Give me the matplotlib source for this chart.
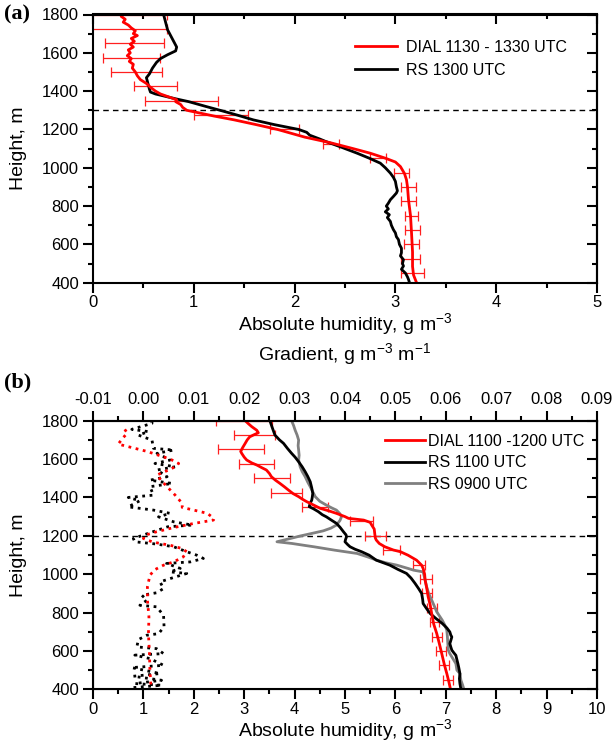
import numpy as np
import matplotlib
matplotlib.use('Agg')
from matplotlib import pyplot as plt
from matplotlib.ticker import MultipleLocator

plt.rcParams['font.family'] = ['Liberation Sans', 'DejaVu Sans']
plt.rcParams['mathtext.fontset'] = 'custom'
plt.rcParams['mathtext.rm'] = 'Liberation Sans'
plt.rcParams['mathtext.it'] = 'Liberation Sans:italic'

# ---- panel (a) ----
a_dial_h = [1800, 1790, 1775, 1760, 1745, 1730, 1715, 1700, 1690, 1675, 1660, 1645, 1630, 1615, 1600,
            1585, 1570, 1555, 1540, 1520, 1500, 1480, 1460, 1440, 1420, 1400, 1385, 1370, 1355, 1345,
            1330, 1315, 1300, 1290, 1270, 1250, 1225, 1200, 1160, 1130, 1100, 1076, 1050, 1030, 1006,
            970, 937, 900, 833, 750, 660, 560, 485, 440, 400]
a_dial_q = [0.30, 0.28, 0.32, 0.30, 0.35, 0.38, 0.42, 0.40, 0.44, 0.38, 0.41, 0.37, 0.40, 0.35, 0.37,
            0.34, 0.38, 0.36, 0.40, 0.39, 0.42, 0.44, 0.47, 0.53, 0.57, 0.62, 0.67, 0.75, 0.83, 0.82,
            0.87, 0.89, 0.93, 1.02, 1.20, 1.40, 1.62, 1.83, 2.10, 2.36, 2.58, 2.75, 2.90, 3.00, 3.05,
            3.09, 3.11, 3.12, 3.13, 3.15, 3.16, 3.17, 3.17, 3.18, 3.21]

a_err_h = [1800, 1725, 1650, 1575, 1500, 1425, 1350, 1275, 1200, 1125, 1050, 975, 900, 825, 750,
           675, 600, 525, 450]
a_err_q = [0.30, 0.36, 0.41, 0.38, 0.43, 0.62, 0.88, 1.27, 1.90, 2.36, 2.83, 3.06, 3.13, 3.13, 3.16,
           3.17, 3.16, 3.15, 3.17]
a_err_w = [0.43, 0.37, 0.29, 0.28, 0.25, 0.21, 0.36, 0.27, 0.14, 0.08, 0.08, 0.07, 0.07, 0.07, 0.06,
           0.07, 0.07, 0.09, 0.11]

a_rs_h = [1800, 1760, 1720, 1690, 1660, 1630, 1610, 1590, 1570, 1550, 1520, 1490, 1470, 1450, 1430,
          1410, 1395, 1385, 1375, 1360, 1345, 1320, 1300, 1275, 1250, 1225, 1200, 1185, 1170, 1150,
          1139, 1110, 1076, 1050, 1024, 1000, 972, 950, 929, 900, 880, 868, 850, 833, 815, 800, 785,
          770, 755, 740, 720, 700, 677, 660, 640, 625, 600, 580, 556, 540, 520, 500, 487, 470, 450,
          430, 417, 400]
a_rs_q = [0.70, 0.72, 0.74, 0.77, 0.80, 0.83, 0.82, 0.74, 0.67, 0.63, 0.59, 0.56, 0.53, 0.54, 0.55,
          0.56, 0.57, 0.62, 0.70, 0.82, 0.95, 1.12, 1.26, 1.43, 1.59, 1.80, 2.04, 2.12, 2.15, 2.25,
          2.30, 2.45, 2.62, 2.74, 2.85, 2.90, 2.95, 2.98, 3.00, 3.01, 3.02, 3.01, 2.98, 2.95, 2.93,
          2.91, 2.93, 2.90, 2.94, 2.92, 2.95, 2.96, 2.98, 3.00, 3.01, 3.03, 3.04, 3.06, 3.06, 3.05,
          3.08, 3.07, 3.08, 3.06, 3.10, 3.12, 3.13, 3.14]

# ---- panel (b) ----
b_dial_h = [1800, 1785, 1769, 1750, 1737, 1725, 1716, 1700, 1682, 1660, 1640, 1630, 1610, 1595, 1580,
            1569, 1555, 1543, 1525, 1508, 1490, 1473, 1455, 1438, 1420, 1404, 1390, 1378, 1360, 1343,
            1330, 1317, 1300, 1291, 1282, 1270, 1256, 1235, 1212, 1190, 1178, 1160, 1143, 1126, 1117,
            1099, 1073, 1047, 1030, 1000, 969, 930, 882, 840, 795, 740, 691, 640, 586, 530, 482, 440, 404]
b_dial_q = [3.02, 3.08, 3.15, 3.25, 3.28, 3.18, 3.11, 3.06, 3.02, 2.97, 2.93, 2.95, 3.00, 3.05, 3.15,
            3.25, 3.35, 3.44, 3.50, 3.54, 3.62, 3.71, 3.80, 3.88, 3.97, 4.08, 4.16, 4.24, 4.38, 4.51,
            4.68, 4.83, 5.00, 5.07, 5.37, 5.50, 5.53, 5.58, 5.59, 5.60, 5.62, 5.68, 5.79, 5.96, 6.10,
            6.25, 6.42, 6.52, 6.55, 6.58, 6.59, 6.62, 6.65, 6.69, 6.72, 6.76, 6.82, 6.87, 6.92, 6.97,
            7.02, 7.06, 7.09]

b_err_h = [1800, 1725, 1650, 1575, 1500, 1425, 1350, 1275, 1200, 1125, 1050, 975, 900, 825, 750, 675,
           600, 525, 450]
b_err_q = [3.00, 3.20, 2.94, 3.25, 3.55, 3.84, 4.41, 5.33, 5.61, 5.93, 6.47, 6.60, 6.63, 6.72, 6.77,
           6.82, 6.90, 6.96, 7.04]
b_err_w = [0.55, 0.41, 0.45, 0.35, 0.36, 0.30, 0.26, 0.23, 0.21, 0.17, 0.12, 0.12, 0.10, 0.10, 0.09,
           0.10, 0.10, 0.10, 0.10]

b_rs11_h = [1800, 1769, 1725, 1700, 1682, 1655, 1630, 1610, 1586, 1560, 1534, 1510, 1482, 1450, 1421,
            1400, 1386, 1370, 1352, 1340, 1326, 1310, 1299, 1280, 1265, 1245, 1221, 1205, 1195, 1180,
            1169, 1155, 1143, 1130, 1117, 1099, 1073, 1047, 1025, 1004, 980, 952, 925, 900, 870, 847,
            820, 795, 770, 743, 720, 699, 682, 673, 655, 638, 620, 604, 590, 577, 555, 534, 510, 482,
            455, 430, 415, 400]
b_rs11_q = [3.51, 3.55, 3.61, 3.70, 3.78, 3.86, 3.94, 4.01, 4.08, 4.15, 4.21, 4.26, 4.31, 4.34, 4.36,
            4.35, 4.34, 4.31, 4.29, 4.38, 4.47, 4.55, 4.63, 4.74, 4.83, 4.90, 4.97, 5.02, 5.03, 5.01,
            5.00, 5.05, 5.10, 5.20, 5.33, 5.48, 5.62, 5.89, 6.05, 6.22, 6.31, 6.39, 6.46, 6.52, 6.54,
            6.55, 6.62, 6.69, 6.80, 6.93, 7.02, 7.08, 7.10, 7.12, 7.10, 7.08, 7.10, 7.12, 7.16, 7.20,
            7.22, 7.24, 7.26, 7.28, 7.27, 7.28, 7.29, 7.30]

b_rs09_h = [1800, 1775, 1751, 1725, 1699, 1670, 1647, 1620, 1595, 1560, 1535, 1508, 1480, 1456, 1430,
            1404, 1380, 1360, 1345, 1334, 1315, 1299, 1280, 1256, 1240, 1226, 1210, 1199, 1185, 1169,
            1160, 1150, 1143, 1125, 1108, 1090, 1073, 1060, 1047, 1030, 1021, 1012, 980, 934, 900, 865,
            835, 804, 780, 760, 735, 708, 680, 640, 604, 586, 560, 534, 500, 482, 447, 425, 400]
b_rs09_q = [3.94, 3.98, 4.01, 4.05, 4.08, 4.07, 4.08, 4.09, 4.08, 4.11, 4.15, 4.21, 4.26, 4.31, 4.36,
            4.41, 4.50, 4.63, 4.74, 4.83, 4.90, 4.93, 4.90, 4.83, 4.72, 4.57, 4.30, 4.11, 3.90, 3.65,
            3.95, 4.20, 4.38, 4.80, 5.24, 5.45, 5.63, 5.80, 6.03, 6.25, 6.36, 6.55, 6.58, 6.62, 6.66,
            6.72, 6.77, 6.82, 6.88, 6.93, 6.98, 7.02, 7.03, 7.04, 7.05, 7.08, 7.14, 7.20, 7.22, 7.28,
            7.30, 7.33, 7.36]

# gradients (top axis)
g_dial_h = [1755, 1735, 1712, 1678, 1640, 1620, 1600, 1577, 1560, 1543, 1517, 1490, 1456, 1412, 1369,
            1348, 1334, 1317, 1290, 1282, 1264, 1243, 1221, 1203, 1186, 1169, 1160, 1151, 1134, 1117,
            1090, 1064, 1047, 1024, 995, 934, 864, 777, 690, 586, 499, 412]
g_dial_g = [-0.0037, -0.0032, -0.0040, -0.0050, 0.0007, 0.0030, 0.0053, 0.0070, 0.0063, 0.0050,
            0.0027, 0.0035, 0.0047, 0.0063, 0.0077, 0.0077, 0.0100, 0.0127, 0.0140, 0.0139, 0.0099,
            0.0060, 0.0026, 0.0003, 0.0000, 0.0017, 0.0033, 0.0053, 0.0076, 0.0086, 0.0079, 0.0060,
            0.0040, 0.0023, 0.0013, 0.0008, 0.0008, 0.0011, 0.0010, 0.0012, 0.0013, 0.0015]

g_rs_h = [1800, 1786, 1755, 1743, 1725, 1699, 1656, 1647, 1630, 1595, 1577, 1560, 1543, 1508, 1490,
          1473, 1456, 1412, 1400, 1383, 1351, 1334, 1317, 1299, 1273, 1256, 1247, 1216, 1186, 1169,
          1157, 1143, 1117, 1099, 1082, 1064, 1056, 1030, 1012, 1004, 977, 960, 925, 903, 890, 864,
          838, 830, 786, 725, 690, 682, 659, 621, 612, 586, 578, 560, 525, 513, 482, 468, 447, 430,
          421, 409]
g_rs_g = [0.0017, 0.0017, -0.0023, 0.0010, -0.0010, 0.0017, 0.0020, 0.0060, 0.0027, 0.0053, 0.0023,
          0.0063, 0.0027, 0.0047, 0.0013, 0.0057, 0.0013, 0.0020, -0.0030, -0.0007, -0.0030, 0.0020,
          0.0053, 0.0030, 0.0060, 0.0097, 0.0048, 0.0013, -0.0020, -0.0017, 0.0026, 0.0060, 0.0086,
          0.0106, 0.0119, 0.0093, 0.0046, 0.0073, 0.0053, 0.0086, 0.0053, 0.0033, 0.0040, 0.0026,
          -0.0003, 0.0007, -0.0007, 0.0026, 0.0040, 0.0041, 0.0030, 0.0007, -0.0010, -0.0013, 0.0026,
          0.0040, -0.0017, 0.0013, 0.0040, -0.0023, 0.0033, -0.0020, 0.0036, -0.0017, 0.0036, -0.0020]

W, H = 613, 749
fig = plt.figure(figsize=(W / 100, H / 100), dpi=100)


def frac(x0, y0, x1, y1):
    return [x0 / W, 1 - y1 / H, (x1 - x0) / W, (y1 - y0) / H]


def style_axes(ax, xmax, xminor):
    for s in ax.spines.values():
        s.set_linewidth(1.5)
    ax.set_ylim(400, 1800)
    ax.set_xlim(0, xmax)
    ax.yaxis.set_major_locator(MultipleLocator(200))
    ax.yaxis.set_minor_locator(MultipleLocator(100))
    ax.xaxis.set_major_locator(MultipleLocator(1))
    ax.xaxis.set_minor_locator(MultipleLocator(xminor))
    ax.tick_params(which='major', direction='out', length=7, width=1.5, labelsize=12, pad=3)
    ax.tick_params(axis='x', which='major', pad=2)
    ax.tick_params(which='minor', direction='out', length=3.5, width=1.5)
    ax.set_ylabel('Height, m', fontsize=14, labelpad=11)
    ax.set_xlabel('Absolute humidity, g m$^{-3}$', fontsize=14, labelpad=0.5)
    # mirrored ticks pointing inward
    r = ax.secondary_yaxis('right')
    r.yaxis.set_major_locator(MultipleLocator(200))
    r.yaxis.set_minor_locator(MultipleLocator(100))
    r.tick_params(which='major', direction='in', length=7, width=1.5, labelright=False)
    r.tick_params(which='minor', direction='in', length=3.5, width=1.5)
    r.spines['right'].set_linewidth(1.5)


# panel (a)
ax = fig.add_axes(frac(93, 14.5, 597, 282.7))
style_axes(ax, 5, 0.5)
t = ax.secondary_xaxis('top')
t.xaxis.set_major_locator(MultipleLocator(1))
t.xaxis.set_minor_locator(MultipleLocator(0.5))
t.tick_params(which='major', direction='in', length=7, width=1.5, labeltop=False)
t.tick_params(which='minor', direction='in', length=3.5, width=1.5)
t.spines['top'].set_linewidth(1.5)

ax.axhline(1300, color='k', lw=1, ls=(0, (4, 3)))
ax.errorbar(a_err_q, a_err_h, xerr=a_err_w, fmt='none', ecolor='#ff2020', elinewidth=0.9,
            capsize=3.5, capthick=0.9)
ax.plot(a_rs_q, a_rs_h, color='k', lw=2, label='RS 1300 UTC')
ax.plot(a_dial_q, a_dial_h, color='red', lw=2, label='DIAL 1130 - 1330 UTC')
h, l = ax.get_legend_handles_labels()
ax.legend(h[::-1], l[::-1], loc='upper left', bbox_to_anchor=(0.52, 0.905), frameon=False,
          fontsize=11.5, handlelength=2.6, handletextpad=0.6, labelspacing=0.5,
          borderpad=0, borderaxespad=0)
fig.text(0.006, 0.981, '(a)', family=['Liberation Serif', 'DejaVu Serif'], weight='bold',
         fontsize=16, va='center', ha='left')

# panel (b)
bx = fig.add_axes(frac(93, 420.7, 597, 689.3))
style_axes(bx, 10, 0.5)
gx = bx.twiny()
gx.set_xlim(-0.01, 0.09)
gx.xaxis.set_major_locator(MultipleLocator(0.01))
gx.xaxis.set_minor_locator(MultipleLocator(0.005))
gx.xaxis.set_major_formatter(plt.FuncFormatter(lambda v, p: '%.2f' % v))
gx.tick_params(which='major', direction='out', length=7, width=1.5, labelsize=12, pad=3)
gx.tick_params(which='minor', direction='out', length=3.5, width=1.5)
gx.spines['top'].set_linewidth(1.5)
gx.set_xlabel('Gradient, g m$^{-3}$ m$^{-1}$', fontsize=14, labelpad=23)

bx.axhline(1200, color='k', lw=1, ls=(0, (4, 3)))
gx.plot(g_rs_g, g_rs_h, color='k', lw=2, ls=':')
gx.plot(g_dial_g, g_dial_h, color='red', lw=2, ls=':')
bx.errorbar(b_err_q, b_err_h, xerr=b_err_w, fmt='none', ecolor='#ff2020', elinewidth=0.9,
            capsize=3.5, capthick=0.9)
l1, = bx.plot(b_rs09_q, b_rs09_h, color='#808080', lw=2, label='RS 0900 UTC')
l2, = bx.plot(b_rs11_q, b_rs11_h, color='k', lw=2, label='RS 1100 UTC')
l3, = bx.plot(b_dial_q, b_dial_h, color='red', lw=2, label='DIAL 1100 -1200 UTC')
gx.legend([l3, l2, l1], [l3.get_label(), l2.get_label(), l1.get_label()], loc='upper left',
          bbox_to_anchor=(0.579, 0.952), frameon=False, fontsize=11.5, handlelength=2.5,
          handletextpad=0.2, labelspacing=0.42, borderpad=0, borderaxespad=0)
fig.text(0.006, 0.49, '(b)', family=['Liberation Serif', 'DejaVu Serif'], weight='bold',
         fontsize=16, va='center', ha='left')

fig.savefig('out.png', dpi=100)
